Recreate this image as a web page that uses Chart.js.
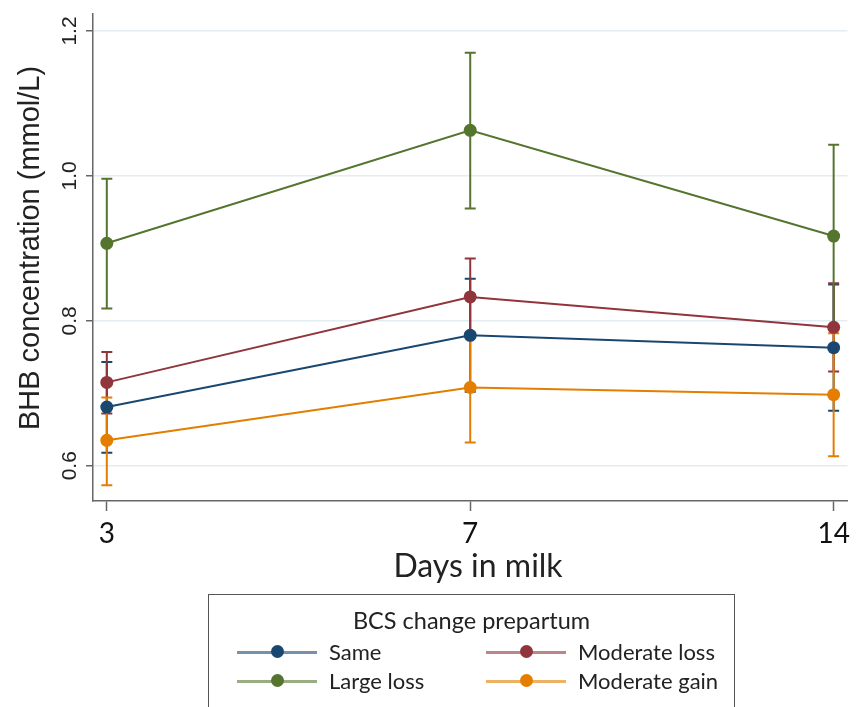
<!DOCTYPE html>
<html>
<head>
<meta charset="utf-8">
<script src="https://cdn.jsdelivr.net/npm/chart.js@4.4.1/dist/chart.umd.min.js"></script>
<style>
  html, body { margin: 0; padding: 0; background: #fff; }
  #wrap { position: relative; width: 856px; height: 707px; overflow: hidden; }
  #legend { position: absolute; left: 208px; top: 594px; width: 527px; height: 130px;
            border: 1.5px solid #555; box-sizing: border-box; font-family: Lato, sans-serif; color: #222; }
  #legend .ttl { position: absolute; left: 0; right: 0; top: 11px; text-align: center; font-size: 23.5px; }
  .item { position: absolute; height: 26px; font-size: 22px; line-height: 26px; }
  .item .ln { position: absolute; left: 0; top: 12px; width: 80px; height: 2.5px; opacity: 0.6; }
  .item .dt { position: absolute; left: 34px; top: 6px; width: 13px; height: 13px; border-radius: 50%; }
  .item .tx { position: absolute; left: 92px; top: 0; white-space: nowrap; }
</style>
</head>
<body>
<div id="wrap">
  <canvas id="c" width="856" height="707"></canvas>
  <div id="legend"><div class="ttl">BCS change prepartum</div></div>
</div>
<script>
// ---- data ----
const days = ['3', '7', '14'];
const seriesNames = ['Same', 'Moderate loss', 'Large loss', 'Moderate gain'];
const seriesColors = ['#1a476f', '#90353b', '#55752f', '#e37e00'];
const sameMean = [0.681, 0.780, 0.763];
const sameLow = [0.618, 0.702, 0.676];
const sameHigh = [0.743, 0.858, 0.850];
const modLossMean = [0.715, 0.833, 0.791];
const modLossLow = [0.672, 0.780, 0.730];
const modLossHigh = [0.757, 0.886, 0.852];
const largeLossMean = [0.907, 1.063, 0.917];
const largeLossLow = [0.817, 0.955, 0.790];
const largeLossHigh = [0.996, 1.170, 1.043];
const modGainMean = [0.635, 0.708, 0.698];
const modGainLow = [0.573, 0.632, 0.613];
const modGainHigh = [0.694, 0.784, 0.783];
const yTicks = [0.6, 0.8, 1.0, 1.2];
const yTickLabels = ['0.6', '0.8', '1.0', '1.2'];

const means = [sameMean, modLossMean, largeLossMean, modGainMean];
const lows = [sameLow, modLossLow, largeLossLow, modGainLow];
const highs = [sameHigh, modLossHigh, largeLossHigh, modGainHigh];

const datasets = seriesNames.map((name, i) => ({
  label: name,
  data: means[i].map((v, j) => ({ x: j, y: v })),
  borderColor: seriesColors[i],
  backgroundColor: seriesColors[i],
  borderWidth: 2,
  pointRadius: 6.5,
  pointBorderWidth: 0,
  pointHoverRadius: 6.5,
  tension: 0,
  low: lows[i],
  high: highs[i]
}));

const errorBars = {
  id: 'errorBars',
  beforeDatasetsDraw(chart) {
    const ctx = chart.ctx, xs = chart.scales.x, ys = chart.scales.y;
    chart.data.datasets.forEach(ds => {
      ctx.save();
      ctx.strokeStyle = ds.borderColor;
      ctx.lineWidth = 2;
      ds.low.forEach((lo, j) => {
        const px = xs.getPixelForValue(j);
        const pLo = ys.getPixelForValue(lo), pHi = ys.getPixelForValue(ds.high[j]);
        ctx.beginPath();
        ctx.moveTo(px, pLo); ctx.lineTo(px, pHi);
        ctx.moveTo(px - 5.5, pLo); ctx.lineTo(px + 5.5, pLo);
        ctx.moveTo(px - 5.5, pHi); ctx.lineTo(px + 5.5, pHi);
        ctx.stroke();
      });
      ctx.restore();
    });
  }
};

const texts = {
  id: 'texts',
  afterDraw(chart) {
    const ctx = chart.ctx, ys = chart.scales.y;
    ctx.save();
    ctx.fillStyle = '#222';
    ctx.font = '21px "Liberation Sans", Arial, sans-serif';
    ctx.textAlign = 'center';
    ctx.textBaseline = 'middle';
    yTicks.forEach((v, i) => {
      const py = ys.getPixelForValue(v);
      ctx.save();
      ctx.translate(70, py);
      ctx.rotate(-Math.PI / 2);
      ctx.fillText(yTickLabels[i], 0, 0);
      ctx.restore();
    });
    ctx.font = '29px "Liberation Sans", Arial, sans-serif';
    ctx.save();
    ctx.translate(31, 248);
    ctx.rotate(-Math.PI / 2);
    ctx.fillText('BHB concentration (mmol/L)', 0, 0);
    ctx.restore();
    ctx.font = '32px Lato, sans-serif';
    ctx.fillText('Days in milk', 478, 567);
    ctx.restore();
  }
};

new Chart(document.getElementById('c'), {
  type: 'line',
  data: { datasets },
  options: {
    responsive: false,
    animation: false,
    events: [],
    layout: { padding: { top: 14, left: 0, right: 0, bottom: 0 } },
    plugins: { legend: { display: false }, tooltip: { enabled: false } },
    scales: {
      x: {
        type: 'linear',
        min: -0.038, max: 2.038,
        afterBuildTicks(s) { s.ticks = days.map((d, i) => ({ value: i })); },
        afterFit(s) { s.height = 206; },
        ticks: {
          callback: v => days[v],
          color: '#111',
          font: { family: 'Lato', size: 28 },
          padding: 6
        },
        grid: { display: true, drawOnChartArea: false, drawTicks: true, tickLength: 10, tickColor: '#666', tickWidth: 1.5 },
        border: { display: true, color: '#666', width: 1.5 }
      },
      y: {
        type: 'linear',
        min: 0.5513, max: 1.2235,
        afterBuildTicks(s) { s.ticks = yTicks.map(v => ({ value: v })); },
        afterFit(s) { s.width = 93; },
        ticks: { display: false },
        grid: { color: '#e3ecf1', lineWidth: 1.5, drawTicks: true, tickLength: 7, tickColor: '#666', tickWidth: 1.5 },
        border: { display: true, color: '#666', width: 1.5 }
      }
    }
  },
  plugins: [errorBars, texts]
});

const legend = document.getElementById('legend');
const pos = [[28, 44], [28, 73], [277, 44], [277, 73]];
const legOrder = [0, 2, 1, 3];
legOrder.forEach((si, k) => {
  const it = document.createElement('div');
  it.className = 'item';
  it.style.left = pos[k][0] + 'px';
  it.style.top = pos[k][1] + 'px';
  it.innerHTML = '<div class="ln" style="background:' + seriesColors[si] + '"></div>' +
    '<div class="dt" style="background:' + seriesColors[si] + '"></div>' +
    '<div class="tx">' + seriesNames[si] + '</div>';
  legend.appendChild(it);
});
</script>
</body>
</html>
